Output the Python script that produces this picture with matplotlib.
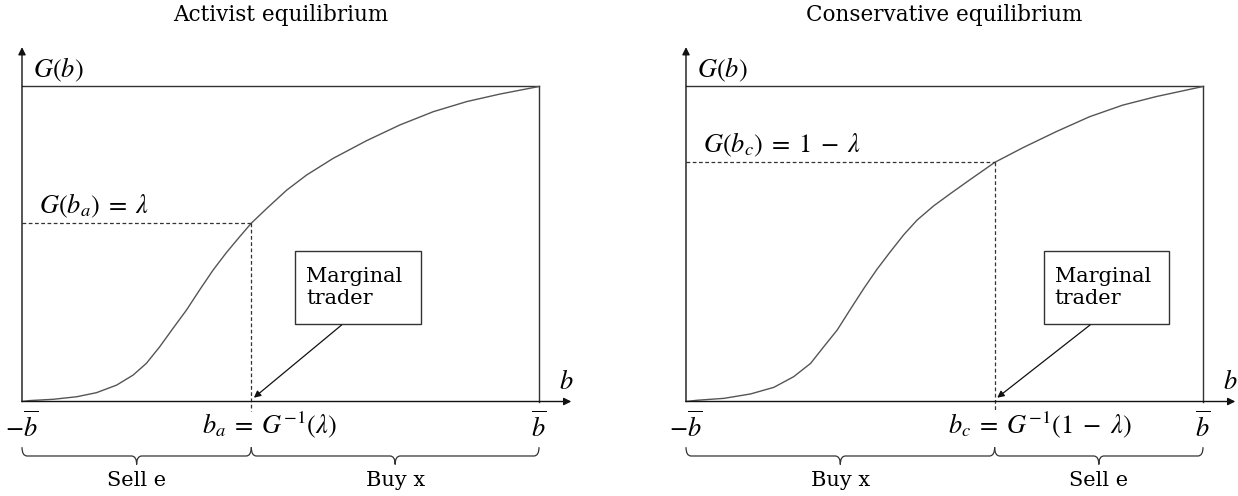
import matplotlib
matplotlib.use("Agg")
import matplotlib.pyplot as plt
from matplotlib.path import Path
from matplotlib.patches import PathPatch, Rectangle

plt.rcParams["font.family"] = ["DejaVu Serif"]
plt.rcParams["mathtext.fontset"] = "stix"

# ---- data (b in [-1, 1] = [-b_bar, b_bar], G in [0, 1]) ----
b_act = [-1.0, -0.969, -0.879, -0.789, -0.712, -0.634, -0.570, -0.519, -0.467,
         -0.416, -0.364, -0.313, -0.261, -0.210, -0.158, -0.113, -0.053, 0.024,
         0.101, 0.204, 0.333, 0.462, 0.591, 0.720, 0.849, 1.0]
G_act = [0.0, 0.003, 0.007, 0.015, 0.028, 0.052, 0.084, 0.121, 0.174,
         0.232, 0.290, 0.354, 0.417, 0.472, 0.523, 0.566, 0.613, 0.671,
         0.719, 0.772, 0.828, 0.878, 0.920, 0.952, 0.976, 1.0]

b_con = [-1.0, -0.956, -0.853, -0.750, -0.660, -0.583, -0.518, -0.467, -0.415,
         -0.364, -0.312, -0.261, -0.209, -0.158, -0.106, -0.042, 0.023, 0.100,
         0.149, 0.194, 0.304, 0.433, 0.561, 0.690, 0.819, 1.0]
G_con = [0.0, 0.004, 0.010, 0.024, 0.045, 0.079, 0.121, 0.174, 0.227,
         0.293, 0.359, 0.420, 0.476, 0.529, 0.576, 0.621, 0.660, 0.705,
         0.733, 0.759, 0.806, 0.857, 0.904, 0.941, 0.968, 1.0]

b_a, G_a = -0.113, 0.566     # activist marginal trader
b_c, G_c = 0.194, 0.760      # conservative marginal trader

titles = ["Activist equilibrium", "Conservative equilibrium"]
level_labels = [r"$G(b_a)\;=\;\lambda$", r"$G(b_c)\;=\;1\;-\;\lambda$"]
cut_labels = [r"$b_a\;=\;G^{-1}(\lambda)$", r"$b_c\;=\;G^{-1}(1\;-\;\lambda)$"]
side_labels = [("Sell e", "Buy x"), ("Buy x", "Sell e")]

INK = "#333333"
CURVE = "#555555"


def brace(ax, x0, x1, y_end, y_bar, y_tip, r=0.02):
    xm = (x0 + x1) / 2
    verts = [(x0, y_end), (x0, y_bar), (x0 + r, y_bar),
             (xm - r, y_bar), (xm, y_bar), (xm, y_tip),
             (xm, y_bar), (xm + r, y_bar),
             (x1 - r, y_bar), (x1, y_bar), (x1, y_end)]
    codes = [Path.MOVETO, Path.CURVE3, Path.CURVE3,
             Path.LINETO, Path.CURVE3, Path.CURVE3,
             Path.CURVE3, Path.CURVE3,
             Path.LINETO, Path.CURVE3, Path.CURVE3]
    ax.add_patch(PathPatch(Path(verts, codes), fill=False, ec=INK, lw=0.9,
                           clip_on=False))


def panel(ax, b, G, bm, Gm, title, lvl, cut, cut_off, sides, box_x):
    ax.set_xlim(-1, 1)
    ax.set_ylim(0, 1)
    ax.set_axis_off()

    # frame: top and right edges of the unit box
    ax.plot([-1, 1], [1, 1], color=INK, lw=1.0, clip_on=False)
    ax.plot([1, 1], [0, 1], color=INK, lw=1.0, clip_on=False)
    # axes with arrows
    arr = dict(arrowstyle="-|>", color="#111111", lw=1.0, mutation_scale=11,
               shrinkA=0, shrinkB=0)
    ax.annotate("", xy=(-1, 1.125), xytext=(-1, 0), arrowprops=arr,
                annotation_clip=False)
    ax.annotate("", xy=(1.125, 0), xytext=(-1, 0), arrowprops=arr,
                annotation_clip=False)

    # distribution curve
    ax.plot(b, G, color=CURVE, lw=1.0, clip_on=False)

    # dashed guides
    ax.plot([-1, bm], [Gm, Gm], color=INK, lw=0.9, ls=(0, (3, 2)), clip_on=False)
    ax.plot([bm, bm], [Gm, -0.03], color=INK, lw=0.9, ls=(0, (3, 2)), clip_on=False)

    # labels
    ax.text(0, 1.228, title, ha="center", va="center", fontsize=15.5)
    ax.text(-0.958, 1.052, r"$G(b)$", ha="left", va="center", fontsize=19)
    ax.text(-0.935, Gm + 0.055, lvl, ha="left", va="center", fontsize=19)
    ax.text(1.104, 0.065, r"$b$", ha="center", va="center", fontsize=19)
    ax.text(-1, -0.08, r"$-\overline{b}$", ha="center", va="center", fontsize=19)
    ax.text(1, -0.08, r"$\overline{b}$", ha="center", va="center", fontsize=19)
    ax.text(bm + cut_off, -0.075, cut, ha="center", va="center", fontsize=19)

    # braces and side labels
    brace(ax, -1, bm, -0.145, -0.173, -0.200)
    brace(ax, bm, 1, -0.145, -0.173, -0.200)
    ax.text((-1 + bm) / 2, -0.25, sides[0], ha="center", va="center", fontsize=15)
    ax.text((bm + 1) / 2, -0.25, sides[1], ha="center", va="center", fontsize=15)

    # marginal trader box + arrow
    x0, x1 = box_x
    ax.add_patch(Rectangle((x0, 0.246), x1 - x0, 0.232, fc="white", ec=INK,
                           lw=1.0, clip_on=False, zorder=3))
    ax.text(x0 + 0.043, 0.362, "Marginal\ntrader", ha="left", va="center",
            fontsize=15, linespacing=1.25, zorder=4)
    start = (x0 + 0.37 * (x1 - x0), 0.243)
    ax.annotate("", xy=(bm + 0.01, 0.012), xytext=start,
                arrowprops=dict(arrowstyle="-|>", color="#111111", lw=0.9,
                                mutation_scale=10, shrinkA=0, shrinkB=0),
                annotation_clip=False)


fig = plt.figure(figsize=(12.38, 4.96), dpi=100)
ax1 = fig.add_axes([22 / 1238, 94.5 / 496, 517 / 1238, 315 / 496])
ax2 = fig.add_axes([686 / 1238, 94.5 / 496, 517 / 1238, 315 / 496])

panel(ax1, b_act, G_act, b_a, G_a, titles[0], level_labels[0], cut_labels[0],
      0.07, side_labels[0], (0.056, 0.544))
panel(ax2, b_con, G_con, b_c, G_c, titles[1], level_labels[1], cut_labels[1],
      0.176, side_labels[1], (0.383, 0.870))

fig.savefig("out.png", dpi=100)
